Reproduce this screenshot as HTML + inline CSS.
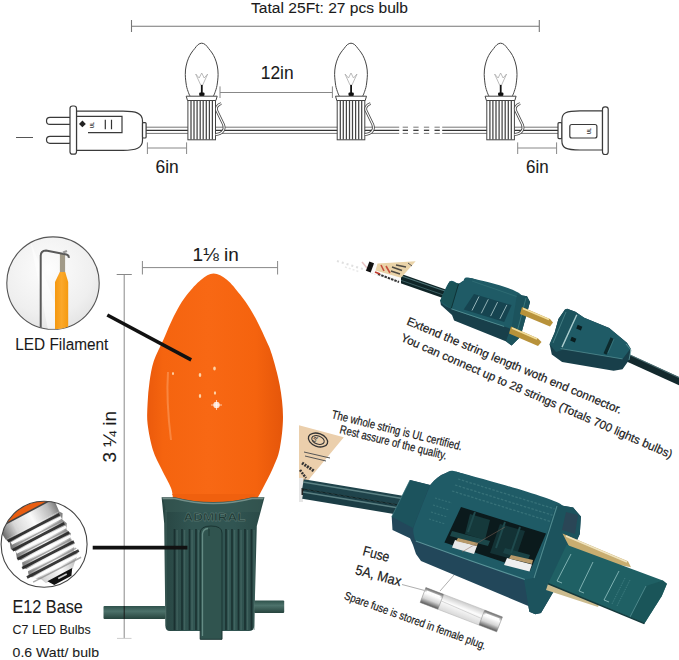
<!DOCTYPE html>
<html><head><meta charset="utf-8"><style>
html,body{margin:0;padding:0;background:#fff;width:679px;height:660px;overflow:hidden}
svg{display:block;font-family:"Liberation Sans",sans-serif}
</style></head><body>
<svg width="679" height="660" viewBox="0 0 679 660">
<defs>
<radialGradient id="cg" cx="0.45" cy="0.35" r="0.7"><stop offset="0" stop-color="#fdfdfd"/><stop offset="0.7" stop-color="#efefef"/><stop offset="1" stop-color="#e2e2e2"/></radialGradient>
<clipPath id="c1"><circle cx="53" cy="283.1" r="46.2"/></clipPath>
<clipPath id="c2"><circle cx="44.1" cy="544.3" r="43"/></clipPath>
<linearGradient id="og" x1="0" y1="0" x2="1" y2="0"><stop offset="0" stop-color="#eb5a0c"/><stop offset="0.12" stop-color="#f5640f"/><stop offset="0.45" stop-color="#f86814"/><stop offset="0.8" stop-color="#f5630e"/><stop offset="1" stop-color="#e5560a"/></linearGradient>
<linearGradient id="gg" x1="0" y1="0" x2="1" y2="0"><stop offset="0" stop-color="#284542"/><stop offset="0.3" stop-color="#315552"/><stop offset="0.7" stop-color="#315552"/><stop offset="1" stop-color="#2a4946"/></linearGradient>
<linearGradient id="wg" x1="0" y1="0" x2="0" y2="1"><stop offset="0" stop-color="#2e514b"/><stop offset="0.4" stop-color="#4d726b"/><stop offset="1" stop-color="#26433d"/></linearGradient>
<linearGradient id="fg" x1="0" y1="0" x2="1" y2="0"><stop offset="0" stop-color="#f5980f"/><stop offset="0.5" stop-color="#fba82a"/><stop offset="1" stop-color="#f59a10"/></linearGradient>
<linearGradient id="sg" x1="0" y1="0" x2="1" y2="0"><stop offset="0" stop-color="#666"/><stop offset="0.25" stop-color="#d8d8d8"/><stop offset="0.55" stop-color="#fafafa"/><stop offset="0.85" stop-color="#bbb"/><stop offset="1" stop-color="#777"/></linearGradient>
<linearGradient id="fuseg" x1="0" y1="0" x2="0" y2="1"><stop offset="0" stop-color="#666"/><stop offset="0.3" stop-color="#fff"/><stop offset="0.65" stop-color="#d5d5d5"/><stop offset="1" stop-color="#555"/></linearGradient>
<linearGradient id="glassg" x1="0" y1="0" x2="0" y2="1"><stop offset="0" stop-color="#ccc"/><stop offset="0.4" stop-color="#fcfcfc"/><stop offset="1" stop-color="#d8d8d8"/></linearGradient>
</defs>
<text x="251" y="12.5" font-size="15.5" textLength="157" lengthAdjust="spacingAndGlyphs" fill="#1a1a1a" stroke="#1a1a1a" stroke-width="0.08">Tatal 25Ft: 27 pcs bulb</text>
<g stroke="#777" stroke-width="1.1" fill="none"><path d="M131.5 26.3H539.3M131.5 20V32M539.3 20V32"/></g>
<path d="M16 137.5H33" stroke="#555" stroke-width="1"/>
<path d="M146.0 127.2H399.2M146.0 133.4H399.2" stroke="#666" stroke-width="0.9"/><path d="M146.0 130.3H399.2" stroke="#333" stroke-width="1.3"/>
<path d="M402.7 127.2H408.0M402.7 133.4H408.0" stroke="#666" stroke-width="0.9"/><path d="M402.7 130.3H408.0" stroke="#333" stroke-width="1.3"/>
<path d="M413.3 127.2H418.6M413.3 133.4H418.6" stroke="#666" stroke-width="0.9"/><path d="M413.3 130.3H418.6" stroke="#333" stroke-width="1.3"/>
<path d="M423.9 127.2H429.2M423.9 133.4H429.2" stroke="#666" stroke-width="0.9"/><path d="M423.9 130.3H429.2" stroke="#333" stroke-width="1.3"/>
<path d="M434.5 127.2H439.8M434.5 133.4H439.8" stroke="#666" stroke-width="0.9"/><path d="M434.5 130.3H439.8" stroke="#333" stroke-width="1.3"/>
<path d="M442.2 127.2H558.0M442.2 133.4H558.0" stroke="#666" stroke-width="0.9"/><path d="M442.2 130.3H558.0" stroke="#333" stroke-width="1.3"/>
<g fill="#fff" stroke="#3a3a3a" stroke-width="1.2">
<rect x="46.5" y="117.4" width="26" height="7" rx="3.5"/>
<rect x="46.5" y="136.3" width="26" height="7" rx="3.5"/>
<path d="M76.5 111.2H123C136 111.2 142.5 113 142.5 121V140.5C142.5 148 136 150.3 123 150.3H76.5Z"/>
<rect x="142.5" y="122.6" width="3.6" height="15.4" rx="1"/>
<rect x="70" y="106" width="6.5" height="48.2" rx="2.5"/>
</g>
<path d="M77 116.3H122V132.7H88" fill="none" stroke="#3a3a3a" stroke-width="1.2"/>
<path d="M105.3 119.8V129.2M111.5 119.8V129.2" stroke="#333" stroke-width="1.2"/>
<path d="M79 123.9L82.4 120.5L85.8 123.9L82.4 127.3Z" fill="#222"/>
<text x="0" y="0" font-size="4.5" fill="#333" transform="translate(94.2 128) rotate(-90)" font-weight="bold">UL</text>
<g fill="#fff" stroke="#3a3a3a" stroke-width="1.2">
<rect x="558" y="122.7" width="4" height="15.9" rx="1"/>
<path d="M602.5 110.9H580C566 110.9 561.9 113 561.9 120V141C561.9 148 566 150 580 150H602.5Z"/>
<rect x="602.5" y="106.8" width="5.7" height="47.7" rx="2.5"/>
<rect x="569.8" y="124.5" width="27.1" height="13.5" rx="2"/>
</g>
<text x="0" y="0" font-size="4.5" fill="#333" transform="translate(591 134) rotate(-90)" font-weight="bold">UL</text>
<g stroke="#888" stroke-width="1" fill="none"><path d="M147.4 148H186.6M147.4 142.4V154M186.6 142.4V154"/>
<path d="M517.7 148H556.6M517.7 142.4V154M556.6 142.4V154"/></g>
<text x="155.5" y="173.3" font-size="17.8" textLength="23.2" lengthAdjust="spacingAndGlyphs" fill="#1a1a1a" stroke="#1a1a1a" stroke-width="0.08">6in</text>
<text x="526" y="172.7" font-size="17.8" textLength="22.6" lengthAdjust="spacingAndGlyphs" fill="#1a1a1a" stroke="#1a1a1a" stroke-width="0.08">6in</text>
<g stroke="#888" stroke-width="1" fill="none"><path d="M220 92.5H332.4M220 86.4V98M332.4 86.4V98"/></g>
<text x="260.8" y="79.3" font-size="18.8" textLength="32.8" lengthAdjust="spacingAndGlyphs" fill="#1a1a1a" stroke="#1a1a1a" stroke-width="0.08">12in</text>
<path d="M190.1 96.2 C189.8 95.6 189.1 94.5 188.5 92.7 C187.9 90.9 186.9 88.5 186.4 85.5 C185.9 82.5 185.3 77.8 185.3 74.5 C185.2 71.2 185.6 68.7 186.1 66.0 C186.6 63.3 187.6 60.4 188.5 58.2 C189.4 56.0 190.3 54.6 191.3 53.0 C192.3 51.4 193.6 50.0 194.7 48.6 C195.8 47.2 196.9 45.5 198.1 44.6 C199.3 43.7 200.5 43.2 201.7 43.2 C202.9 43.2 204.1 43.7 205.3 44.6 C206.5 45.5 207.6 47.2 208.7 48.6 C209.8 50.0 211.1 51.4 212.1 53.0 C213.1 54.6 214.0 56.0 214.9 58.2 C215.8 60.4 216.8 63.3 217.3 66.0 C217.8 68.7 218.1 71.2 218.1 74.5 C218.1 77.8 217.5 82.5 217.0 85.5 C216.5 88.5 215.5 90.9 214.9 92.7 C214.3 94.5 213.6 95.6 213.3 96.2" fill="#fff" stroke="#444" stroke-width="1"/><path d="M195.7 74L200.7 85L202.7 85L207.7 74L204.2 78L201.7 73L199.2 78Z" fill="none" stroke="#aaa" stroke-width="0.8"/><rect x="200.9" y="85" width="1.8" height="8" fill="#111"/><rect x="199.2" y="92.5" width="5.3" height="3.6" fill="#111" rx="1"/><rect x="187.9" y="100.5" width="27.6" height="39.3" fill="#fff" stroke="#444" stroke-width="1"/><path d="M191.0 101V139.5" stroke="#444" stroke-width="1.25"/><path d="M194.0 101V139.5" stroke="#444" stroke-width="1.25"/><path d="M197.1 101V139.5" stroke="#444" stroke-width="1.25"/><path d="M200.2 101V139.5" stroke="#444" stroke-width="1.25"/><path d="M203.2 101V139.5" stroke="#444" stroke-width="1.25"/><path d="M206.3 101V139.5" stroke="#444" stroke-width="1.25"/><path d="M209.4 101V139.5" stroke="#444" stroke-width="1.25"/><path d="M212.4 101V139.5" stroke="#444" stroke-width="1.25"/><path d="M186.2 96.2H217.2L215.9 100.5H187.5Z" fill="#fff" stroke="#444" stroke-width="1"/><path d="M221.2 103.5C218.7 104.5 215.7 106.5 216.5 110L223.5 124.5C225.5 129.5 222.7 134 215.5 134.6" fill="none" stroke="#4a4a4a" stroke-width="2.8"/><path d="M221.2 103.5C218.7 104.5 215.7 106.5 216.5 110L223.5 124.5C225.5 129.5 222.7 134 215.5 134.6" fill="none" stroke="#fff" stroke-width="1.1"/>
<path d="M339.4 96.2 C339.1 95.6 338.4 94.5 337.8 92.7 C337.2 90.9 336.2 88.5 335.7 85.5 C335.2 82.5 334.7 77.8 334.6 74.5 C334.6 71.2 334.9 68.7 335.4 66.0 C335.9 63.3 336.9 60.4 337.8 58.2 C338.7 56.0 339.6 54.6 340.6 53.0 C341.6 51.4 342.9 50.0 344.0 48.6 C345.1 47.2 346.2 45.5 347.4 44.6 C348.6 43.7 349.8 43.2 351.0 43.2 C352.2 43.2 353.4 43.7 354.6 44.6 C355.8 45.5 356.9 47.2 358.0 48.6 C359.1 50.0 360.4 51.4 361.4 53.0 C362.4 54.6 363.3 56.0 364.2 58.2 C365.1 60.4 366.1 63.3 366.6 66.0 C367.1 68.7 367.4 71.2 367.4 74.5 C367.3 77.8 366.8 82.5 366.3 85.5 C365.8 88.5 364.8 90.9 364.2 92.7 C363.6 94.5 362.9 95.6 362.6 96.2" fill="#fff" stroke="#444" stroke-width="1"/><path d="M345.0 74L350.0 85L352.0 85L357.0 74L353.5 78L351.0 73L348.5 78Z" fill="none" stroke="#aaa" stroke-width="0.8"/><rect x="350.2" y="85" width="1.8" height="8" fill="#111"/><rect x="348.5" y="92.5" width="5.3" height="3.6" fill="#111" rx="1"/><rect x="337.2" y="100.5" width="27.6" height="39.3" fill="#fff" stroke="#444" stroke-width="1"/><path d="M340.3 101V139.5" stroke="#444" stroke-width="1.25"/><path d="M343.3 101V139.5" stroke="#444" stroke-width="1.25"/><path d="M346.4 101V139.5" stroke="#444" stroke-width="1.25"/><path d="M349.5 101V139.5" stroke="#444" stroke-width="1.25"/><path d="M352.5 101V139.5" stroke="#444" stroke-width="1.25"/><path d="M355.6 101V139.5" stroke="#444" stroke-width="1.25"/><path d="M358.7 101V139.5" stroke="#444" stroke-width="1.25"/><path d="M361.7 101V139.5" stroke="#444" stroke-width="1.25"/><path d="M335.5 96.2H366.5L365.2 100.5H336.8Z" fill="#fff" stroke="#444" stroke-width="1"/><path d="M370.5 103.5C368.0 104.5 365.0 106.5 365.8 110L372.8 124.5C374.8 129.5 372.0 134 364.8 134.6" fill="none" stroke="#4a4a4a" stroke-width="2.8"/><path d="M370.5 103.5C368.0 104.5 365.0 106.5 365.8 110L372.8 124.5C374.8 129.5 372.0 134 364.8 134.6" fill="none" stroke="#fff" stroke-width="1.1"/>
<path d="M489.0 96.2 C488.7 95.6 488.0 94.5 487.4 92.7 C486.8 90.9 485.8 88.5 485.3 85.5 C484.8 82.5 484.3 77.8 484.2 74.5 C484.2 71.2 484.5 68.7 485.0 66.0 C485.5 63.3 486.5 60.4 487.4 58.2 C488.3 56.0 489.2 54.6 490.2 53.0 C491.2 51.4 492.5 50.0 493.6 48.6 C494.7 47.2 495.8 45.5 497.0 44.6 C498.2 43.7 499.4 43.2 500.6 43.2 C501.8 43.2 503.0 43.7 504.2 44.6 C505.4 45.5 506.5 47.2 507.6 48.6 C508.7 50.0 510.0 51.4 511.0 53.0 C512.0 54.6 512.9 56.0 513.8 58.2 C514.7 60.4 515.7 63.3 516.2 66.0 C516.7 68.7 517.0 71.2 517.0 74.5 C517.0 77.8 516.4 82.5 515.9 85.5 C515.4 88.5 514.4 90.9 513.8 92.7 C513.2 94.5 512.5 95.6 512.2 96.2" fill="#fff" stroke="#444" stroke-width="1"/><path d="M494.6 74L499.6 85L501.6 85L506.6 74L503.1 78L500.6 73L498.1 78Z" fill="none" stroke="#aaa" stroke-width="0.8"/><rect x="499.8" y="85" width="1.8" height="8" fill="#111"/><rect x="498.1" y="92.5" width="5.3" height="3.6" fill="#111" rx="1"/><rect x="486.8" y="100.5" width="27.6" height="39.3" fill="#fff" stroke="#444" stroke-width="1"/><path d="M489.9 101V139.5" stroke="#444" stroke-width="1.25"/><path d="M492.9 101V139.5" stroke="#444" stroke-width="1.25"/><path d="M496.0 101V139.5" stroke="#444" stroke-width="1.25"/><path d="M499.1 101V139.5" stroke="#444" stroke-width="1.25"/><path d="M502.1 101V139.5" stroke="#444" stroke-width="1.25"/><path d="M505.2 101V139.5" stroke="#444" stroke-width="1.25"/><path d="M508.3 101V139.5" stroke="#444" stroke-width="1.25"/><path d="M511.3 101V139.5" stroke="#444" stroke-width="1.25"/><path d="M485.1 96.2H516.1L514.8 100.5H486.4Z" fill="#fff" stroke="#444" stroke-width="1"/><path d="M520.1 103.5C517.6 104.5 514.6 106.5 515.4 110L522.4 124.5C524.4 129.5 521.6 134 514.4 134.6" fill="none" stroke="#4a4a4a" stroke-width="2.8"/><path d="M520.1 103.5C517.6 104.5 514.6 106.5 515.4 110L522.4 124.5C524.4 129.5 521.6 134 514.4 134.6" fill="none" stroke="#fff" stroke-width="1.1"/>
<circle cx="53" cy="283.1" r="46.2" fill="url(#cg)" stroke="#555" stroke-width="1.1"/>
<g clip-path="url(#c1)">
<path d="M30 240L50 340L70 340Z" fill="#fff" opacity="0.5"/>
<path d="M62.5 254V274" stroke="#a19a88" stroke-width="5.2"/>
<path d="M59.8 272L55 282V340H68.2V282L65.2 272Z" fill="url(#fg)"/>
<path d="M40.7 340V256Q40.7 250.5 46 250.5L66.5 254.5Q69 255.2 68.8 257.8" fill="none" stroke="#5a5a5a" stroke-width="2"/>
<path d="M63 252.5L67 251" stroke="#999" stroke-width="2"/>
</g>
<text x="15.3" y="350" font-size="16.8" textLength="93" lengthAdjust="spacingAndGlyphs" fill="#1a1a1a" stroke="#1a1a1a" stroke-width="0.08">LED Filament</text>
<g stroke="#888" stroke-width="1" fill="none"><path d="M124.2 274.5V638.4M116.7 274.5H131.8"/><path d="M117 638.4H131.5" stroke="#ccc"/>
<path d="M142.4 267.6H277.6M142.4 261V274.5M277.6 261V274.5"/></g>
<text x="192.4" y="261" font-size="19" textLength="46.4" lengthAdjust="spacingAndGlyphs" fill="#1a1a1a" stroke="#1a1a1a" stroke-width="0.08">1⅛ in</text>
<text x="0" y="0" font-size="18.5" fill="#1a1a1a" stroke="#1a1a1a" stroke-width="0.08" transform="translate(116.2 462.6) rotate(-90)" textLength="51.6" lengthAdjust="spacingAndGlyphs">3 ¼ in</text>
<path d="M173.0 499.0 C172.7 497.2 172.9 493.0 171.0 488.0 C169.1 483.0 164.5 475.3 161.5 469.0 C158.5 462.7 155.2 457.5 152.9 450.0 C150.6 442.5 148.5 431.8 147.6 424.0 C146.7 416.2 147.3 410.0 147.6 403.0 C147.9 396.0 148.5 389.0 149.5 382.0 C150.5 375.0 151.5 368.0 153.8 361.0 C156.1 354.0 160.6 346.2 163.3 340.0 C166.0 333.8 167.8 329.0 170.2 323.9 C172.6 318.8 174.7 314.1 177.5 309.2 C180.3 304.3 183.2 299.4 187.1 294.5 C191.0 289.6 196.7 283.2 201.1 279.7 C205.5 276.2 209.3 273.5 213.6 273.5 C217.9 273.5 222.5 276.2 226.9 279.7 C231.3 283.2 236.2 289.6 240.1 294.5 C244.0 299.4 247.3 304.3 250.4 309.2 C253.5 314.1 255.9 318.8 258.5 323.9 C261.1 329.0 263.8 335.0 266.0 340.0 C268.2 345.0 269.4 346.5 271.7 354.0 C274.0 361.5 277.8 374.5 279.7 385.0 C281.6 395.5 283.0 406.3 283.0 417.0 C283.0 427.7 281.4 440.3 279.7 449.0 C277.9 457.7 275.3 462.5 272.5 469.0 C269.7 475.5 265.6 483.0 263.0 488.0 C260.4 493.0 258.0 497.2 257.0 499.0 Z" fill="url(#og)"/>
<path d="M168 372Q166 400 171 440" stroke="#ffb07a" stroke-width="2" fill="none" opacity="0.45"/>
<ellipse cx="214.5" cy="368.5" rx="1.3" ry="2.1" fill="#fdd3a8"/>
<ellipse cx="200.0" cy="375.0" rx="1.3" ry="2.1" fill="#fdd3a8"/>
<ellipse cx="173.0" cy="373.5" rx="1.0" ry="1.6" fill="#fdd3a8"/>
<ellipse cx="200.0" cy="396.0" rx="1.2" ry="1.9" fill="#fdd3a8"/>
<ellipse cx="215.0" cy="393.0" rx="1.1" ry="1.8" fill="#fdd3a8"/>
<circle cx="216.5" cy="405" r="3.2" fill="#fff" opacity="0.8"/>
<path d="M211 405H222M216.5 400V410" stroke="#fff" stroke-width="0.8" opacity="0.8"/>
<path d="M172 494H256L252 500Q213 510 176 500Z" fill="#f0600e"/>
<path d="M161.6 497.2L175 497.2Q213 507 252 497.2L264.5 497.2L256.8 526L254.2 626Q254 631 249 631L170 631Q165.4 631 165.4 626L164.2 523.5Z" fill="url(#gg)"/>
<path d="M163 498L175 498Q213 508 252 498L263 498L259.5 512L166 512Z" fill="#3a5c55" opacity="0.5"/>
<path d="M162.5 498.5L175 498.5Q213 508.5 252 498.5L263.5 498.5" stroke="#9fb5af" stroke-width="1.3" fill="none" opacity="0.6"/>
<rect x="103.5" y="606" width="62" height="13" rx="1" fill="url(#wg)"/>
<rect x="254" y="600.5" width="30.2" height="12.5" rx="1" fill="url(#wg)"/>
<path d="M124.2 606V619" stroke="#1a1a1a" stroke-width="1"/>
<path d="M174.5 529V630" stroke="#182d2d" stroke-width="1.7" opacity="0.85"/>
<path d="M177.1 530V630" stroke="#52746f" stroke-width="1.3" opacity="0.5"/>
<path d="M182.0 529V630" stroke="#182d2d" stroke-width="1.7" opacity="0.85"/>
<path d="M184.6 530V630" stroke="#52746f" stroke-width="1.3" opacity="0.5"/>
<path d="M189.5 529V630" stroke="#182d2d" stroke-width="1.7" opacity="0.85"/>
<path d="M192.1 530V630" stroke="#52746f" stroke-width="1.3" opacity="0.5"/>
<path d="M196.0 529V630" stroke="#182d2d" stroke-width="1.7" opacity="0.85"/>
<path d="M198.6 530V630" stroke="#52746f" stroke-width="1.3" opacity="0.5"/>
<path d="M226.0 529V630" stroke="#182d2d" stroke-width="1.7" opacity="0.85"/>
<path d="M228.6 530V630" stroke="#52746f" stroke-width="1.3" opacity="0.5"/>
<path d="M232.0 529V630" stroke="#182d2d" stroke-width="1.7" opacity="0.85"/>
<path d="M234.6 530V630" stroke="#52746f" stroke-width="1.3" opacity="0.5"/>
<path d="M238.5 529V630" stroke="#182d2d" stroke-width="1.7" opacity="0.85"/>
<path d="M241.1 530V630" stroke="#52746f" stroke-width="1.3" opacity="0.5"/>
<path d="M245.0 529V630" stroke="#182d2d" stroke-width="1.7" opacity="0.85"/>
<path d="M247.6 530V630" stroke="#52746f" stroke-width="1.3" opacity="0.5"/>
<path d="M251.5 529V630" stroke="#182d2d" stroke-width="1.7" opacity="0.85"/>
<path d="M254.1 530V630" stroke="#52746f" stroke-width="1.3" opacity="0.5"/>
<path d="M166 510V626" stroke="#4a6c65" stroke-width="1.2" opacity="0.5"/>
<path d="M200.2 639.3V533Q200.2 526 211 526Q222 526 222 533V639.3Z" fill="#30544f" stroke="#1a3432" stroke-width="1"/>
<path d="M202.5 636V534Q203 529 208 528.5" stroke="#6a918a" stroke-width="1.3" fill="none" opacity="0.9"/>
<path d="M209 529V536" stroke="#1c3934" stroke-width="1"/>
<text x="183.5" y="521" font-size="10.5" font-weight="bold" fill="#203a35" stroke="#6d8b84" stroke-width="0.3" textLength="62" lengthAdjust="spacingAndGlyphs">ADMIRAL</text>
<path d="M107.3 315L191.2 359.8" stroke="#111" stroke-width="3.6"/>
<path d="M92.7 547.6H187.4" stroke="#111" stroke-width="3.6"/>
<circle cx="44.1" cy="544.3" r="43" fill="#fff"/>
<g clip-path="url(#c2)"><g transform="translate(47 546) rotate(-28) scale(1.08)"><g transform="translate(-3 0)">
<rect x="-45" y="-70" width="90" height="34" fill="#e95e12"/>
<path d="M-29 -36H29L28 -23H-28Z" fill="url(#sg)"/>
<path d="M-29 -36H29" stroke="#444" stroke-width="1.5"/>
<path d="M-28.0 -23.0 L-26.0 -19.0 L-28.0 -13.0 L-25.0 -9.0 L-27.0 -3.0 L-24.0 1.0 L-26.0 7.0 L-23.0 11.0 L-25.0 17.0 L-21.0 21.0 L-16.0 25.0 L-14.0 30.0 L14.0 30.0 L19.0 25.0 L25.0 20.0 L23.0 15.0 L27.0 10.0 L25.0 5.0 L28.0 0.0 L26.0 -5.0 L29.0 -10.0 L27.0 -15.0 L30.0 -20.0 L28.0 -23.0Z" fill="url(#sg)"/>
<path d="M-27 -21.0L27 -20.5" stroke="#262626" stroke-width="2.6" opacity="0.9"/>
<path d="M-25 -17.5L27 -17.0" stroke="#fff" stroke-width="2.6" opacity="0.95"/>
<path d="M-24 -14.5L26 -14.0" stroke="#888" stroke-width="1.4" opacity="0.7"/>
<path d="M-27 -11.5L27 -11.0" stroke="#262626" stroke-width="2.6" opacity="0.9"/>
<path d="M-25 -8.0L27 -7.5" stroke="#fff" stroke-width="2.6" opacity="0.95"/>
<path d="M-24 -5.0L26 -4.5" stroke="#888" stroke-width="1.4" opacity="0.7"/>
<path d="M-27 -2.0L27 -1.5" stroke="#262626" stroke-width="2.6" opacity="0.9"/>
<path d="M-25 1.5L27 2.0" stroke="#fff" stroke-width="2.6" opacity="0.95"/>
<path d="M-24 4.5L26 5.0" stroke="#888" stroke-width="1.4" opacity="0.7"/>
<path d="M-27 7.5L27 8.0" stroke="#262626" stroke-width="2.6" opacity="0.9"/>
<path d="M-25 11.0L27 11.5" stroke="#fff" stroke-width="2.6" opacity="0.95"/>
<path d="M-24 14.0L26 14.5" stroke="#888" stroke-width="1.4" opacity="0.7"/>
<path d="M-27 17.0L27 17.5" stroke="#262626" stroke-width="2.6" opacity="0.9"/>
<path d="M-25 20.5L27 21.0" stroke="#fff" stroke-width="2.6" opacity="0.95"/>
<path d="M-24 23.5L26 24.0" stroke="#888" stroke-width="1.4" opacity="0.7"/>
<path d="M-12 29L14 29L10 35L-8 35Z" fill="#111"/>
<path d="M-2 31.5H7" stroke="#ccc" stroke-width="1.6"/>
</g></g></g>
<circle cx="44.1" cy="544.3" r="43" fill="none" stroke="#444" stroke-width="1.1"/>
<text x="12.4" y="613" font-size="18.5" textLength="70.5" lengthAdjust="spacingAndGlyphs" fill="#1a1a1a" stroke="#1a1a1a" stroke-width="0.08">E12 Base</text>
<text x="12.6" y="634" font-size="13.6" textLength="78" lengthAdjust="spacingAndGlyphs" fill="#1a1a1a" stroke="#1a1a1a" stroke-width="0.08">C7 LED Bulbs</text>
<text x="12.6" y="657" font-size="12.8" textLength="86.4" lengthAdjust="spacingAndGlyphs" fill="#1a1a1a" stroke="#1a1a1a" stroke-width="0.08">0.6 Watt/ bulb</text>
<path d="M337 261L366 270" stroke="#ccc" stroke-width="2" stroke-dasharray="2 3" opacity="0.6"/>
<path d="M345 267L360 272" stroke="#ddd" stroke-width="1.5" stroke-dasharray="2 2" opacity="0.6"/>
<path d="M362 262L367 268" stroke="#d9a0a0" stroke-width="1.5" opacity="0.6"/>
<path d="M372 268.5L445 294" stroke="#0f2527" stroke-width="9"/>
<path d="M400 275.5L445 291" stroke="#587e82" stroke-width="1.2" opacity="0.9"/>
<path d="M400 280L445 295.5" stroke="#466b6f" stroke-width="1" opacity="0.8"/>
<path d="M370.3 262.5L401 274L401 284.5L370.3 273Z" fill="#fafafa"/>
<rect x="367.5" y="262" width="5" height="10" fill="#111" transform="rotate(20 370 267)"/>
<path d="M377.5 263.4L415.7 261.3L401 277.8L375.5 270.6Z" fill="#ead3a8"/>
<path d="M381 265L384 271M386 266L390 273" stroke="#c0392b" stroke-width="1.6" opacity="0.85"/>
<path d="M392 267L402 270.5M391 271L400 274M396 265L406 267" stroke="#333" stroke-width="1.4" opacity="0.85"/>
<path d="M378 274L399 282" stroke="#333" stroke-width="2" stroke-dasharray="2.5 1"/>
<path d="M375 272L380 274" stroke="#c0392b" stroke-width="1.8"/>
<path d="M408 263L412 266" stroke="#555" stroke-width="1"/>
<path d="M449.7 281.6 L458.6 283.8 L465.9 279.4 L471.8 278.2 L521.9 295.6 L527.0 296.2 L530.0 302.0 L520.4 336.8 L511.6 345.6 L505.7 341.2 L454.1 320.6 L452.0 315.0 L440.9 305.1 L440.2 300.7Z" fill="#183f4a"/>
<path d="M440.2 300.7 C441.8 297.5 446.6 284.4 449.7 281.6 C452.8 278.8 456.4 283.9 458.6 283.8 C460.8 283.7 460.8 281.9 463.0 281.0 C465.2 280.1 462.0 275.8 471.8 278.2 C481.6 280.6 515.2 287.6 521.9 295.6 C528.6 303.6 515.0 320.9 512.0 326.0 C509.1 331.1 514.3 329.4 504.2 326.5 C494.1 323.6 461.9 313.1 451.2 308.8 C440.5 304.5 442.0 302.1 440.2 300.7" fill="#1f5b66"/>
<path d="M440.2 300.7L449.7 281.6L458.6 283.8L451.2 308.8Z" fill="#1a5358"/>
<path d="M458.6 283.8L451.2 308.8" stroke="#0f3336" stroke-width="1"/>
<path d="M474.0 294.1 L511.6 305.1 L504.2 322.0 L463.7 309.6Z" fill="#164450"/>
<path d="M479.0 296.5L472.0 310.5" stroke="#cfe8e8" stroke-width="0.9" opacity="0.75"/>
<path d="M488.3 299.3L481.3 313.3" stroke="#cfe8e8" stroke-width="0.9" opacity="0.75"/>
<path d="M497.6 302.1L490.6 316.1" stroke="#cfe8e8" stroke-width="0.9" opacity="0.75"/>
<path d="M506.9 304.9L499.9 318.9" stroke="#cfe8e8" stroke-width="0.9" opacity="0.75"/>
<path d="M451.2 308.8L504.2 326.5" stroke="#5d999c" stroke-width="1" opacity="0.8"/>
<path d="M472 281L518 297" stroke="#3e7c80" stroke-width="0.8" opacity="0.6"/>
<path d="M517.0 294.5 L527.0 296.2 L530.0 302.0 L520.4 336.8 L511.6 345.6 L506.0 341.0 L512.0 325.0Z" fill="#1c535d"/>
<path d="M526 298L516 336" stroke="#4d8b8f" stroke-width="0.9" opacity="0.7"/>
<path d="M522.0 307.0 L550.0 319.0 L553.0 322.5 L550.0 326.5 L520.0 314.0Z" fill="#b8923a"/>
<path d="M523 308.5L549 319.5" stroke="#f2dd9c" stroke-width="1.6"/>
<path d="M511.0 326.5 L538.0 338.5 L541.5 342.0 L538.0 346.0 L509.0 333.5Z" fill="#b8923a"/>
<path d="M512 328L537 339" stroke="#f2dd9c" stroke-width="1.6"/>
<path d="M626 357L681 382" stroke="#13292d" stroke-width="7.5"/>
<path d="M630 355L681 378.5" stroke="#557a7e" stroke-width="1.1" opacity="0.8"/>
<path d="M567.2 308.8 L575.3 311.8 L584.2 317.7 L609.2 328.0 L626.9 342.7 L630.6 348.6 L629.8 358.9 L622.5 369.2 L613.6 370.7 L562.1 361.9 L551.8 354.5 L549.6 344.2 L554.7 332.4 L558.4 319.1 L565.0 309.6Z" fill="#183f4a"/>
<path d="M575.3 311.8 L584.2 317.7 L609.2 328.0 L626.9 342.7 L630.6 348.6 L622.5 358.9 L560.6 348.6 L566.0 330.0Z" fill="#1f5b66"/>
<path d="M565.0 309.6 L567.2 308.8 L575.3 311.8 L578.0 314.0 L562.0 350.0 L556.0 352.0 L549.6 344.2 L554.7 332.4 L558.4 319.1Z" fill="#1c535d"/>
<path d="M576.8 314.7L562 347.1" stroke="#c4e3e3" stroke-width="1.4" opacity="0.85"/>
<path d="M566 312L553 343" stroke="#5a9599" stroke-width="0.9" opacity="0.7"/>
<rect x="577" y="325.5" width="5" height="4" fill="#0a1e20" transform="rotate(22 579 327)"/>
<rect x="571" y="337.5" width="5" height="4" fill="#0a1e20" transform="rotate(22 573 339)"/>
<path d="M612 338L605 354" stroke="#0d2a2d" stroke-width="3.2"/>
<path d="M614 339L608 353" stroke="#4d8b8f" stroke-width="0.7" opacity="0.7"/>
<path d="M560.6 348.6L622.5 358.9" stroke="#5d999c" stroke-width="0.9" opacity="0.75"/>
<path d="M626 344L631 350L629 360" stroke="#6aa5a8" stroke-width="1" fill="none" opacity="0.7"/>
<text font-size="11.8" fill="#1a1a1a" stroke="#1a1a1a" stroke-width="0.2" transform="translate(406 324.3) rotate(22.75)" textLength="232" lengthAdjust="spacingAndGlyphs">Extend the string length woth end connector.</text>
<text font-size="11.8" fill="#1a1a1a" stroke="#1a1a1a" stroke-width="0.2" transform="translate(400 340.5) rotate(23.6)" textLength="295" lengthAdjust="spacingAndGlyphs">You can connect up to 28 strings (Totals 700 lights bulbs)</text>
<text font-size="12" fill="#1a1a1a" stroke="#1a1a1a" stroke-width="0.2" transform="translate(331 418) rotate(14)" textLength="134" lengthAdjust="spacingAndGlyphs">The whole string is UL certified.</text>
<text font-size="12" fill="#1a1a1a" stroke="#1a1a1a" stroke-width="0.2" transform="translate(339 433) rotate(14)" textLength="110" lengthAdjust="spacingAndGlyphs">Rest assure of the quality.</text>
<path d="M299 425.2L343.8 437.3L310.5 477.4L299 494.8Z" fill="#ebcfac"/>
<ellipse cx="318" cy="440" rx="10" ry="6.5" fill="none" stroke="#333" stroke-width="1.3" transform="rotate(20 318 440)"/>
<ellipse cx="318" cy="440" rx="6.5" ry="4" fill="none" stroke="#333" stroke-width="1" transform="rotate(20 318 440)"/>
<text font-size="5" fill="#333" font-weight="bold" transform="translate(315 442.5) rotate(-60)">UL</text>
<path d="M304 452L330 458M305 456L326 461" stroke="#555" stroke-width="1"/>
<path d="M302 463L314 471" stroke="#333" stroke-width="3" stroke-dasharray="2 1"/>
<path d="M300 470L306 478" stroke="#333" stroke-width="2.5" stroke-dasharray="2 1"/>
<path d="M301 478L301 502" stroke="#e6e6e6" stroke-width="4"/>
<path d="M303 488L303 495" stroke="#222" stroke-width="3"/>
<path d="M303 484L405 501" stroke="#1f434b" stroke-width="9.5"/>
<path d="M303 494L405 511" stroke="#1b3d45" stroke-width="9.5"/>
<path d="M303 489L405 506" stroke="#0b1f21" stroke-width="1"/>
<path d="M303 482L405 499M303 492L405 509" stroke="#6a9092" stroke-width="1.4" opacity="0.8"/>
<path d="M410.0 480.0 L430.0 485.0 L435.0 480.0 L441.0 475.0 L447.0 472.5 L456.7 471.7 L562.7 505.7 L573.2 507.6 L580.9 516.5 L579.8 534.0 L554.2 590.6 L541.0 613.0 L535.3 614.2 L529.4 611.8 L528.3 606.0 L421.0 561.0 L416.0 554.0 L413.0 545.0 L410.0 538.3 L392.5 530.0 L391.7 516.7Z" fill="#22475a"/>
<path d="M410.0 480.0 L430.0 485.0 L413.0 528.0 L391.7 516.7Z" fill="#1c535d"/>
<path d="M410 480L391.7 516.7" stroke="#4d8b8f" stroke-width="0.9" opacity="0.6"/>
<path d="M415.0 540.0 C414.9 539.2 412.5 531.6 413.5 528.0 C414.5 524.4 428.4 489.3 430.0 486.0 C431.6 482.7 435.9 478.9 437.0 478.0 C438.1 477.1 445.7 472.9 447.0 472.5 C448.3 472.1 449.0 469.5 456.7 471.7 C464.4 473.9 557.6 498.6 562.7 505.7 C567.8 512.8 535.5 573.1 533.0 578.0 C530.5 582.9 529.1 580.7 524.9 579.5 C520.7 578.3 477.3 563.2 470.0 560.6 C462.7 558.0 418.7 541.4 415.0 540.0" fill="#1f5b66"/>
<path d="M415.8 541L470 560.6L524.9 579.5" stroke="#64a0a3" stroke-width="1.1" fill="none" opacity="0.85"/>
<path d="M461.0 507.0 L546.0 533.5 L530.0 571.0 L444.4 542.4Z" fill="#0b1a1c"/>
<path d="M470.0 514.0 L490.0 520.0 L485.0 540.0 L465.0 534.0Z" fill="#15393b"/>
<path d="M452.0 531.0 L490.0 541.0 L488.0 546.0 L450.0 536.0Z" fill="#1b4649"/>
<path d="M500.0 524.0 L525.0 531.0 L515.0 560.0 L490.0 553.0Z" fill="#133235"/>
<path d="M505.0 548.0 L530.0 555.0 L528.0 560.0 L503.0 553.0Z" fill="#1a4245"/>
<path d="M475 512L468 532M505 522L496 548M520 527L511 553" stroke="#1f4a4d" stroke-width="2"/>
<path d="M455.0 540.0 L477.0 546.0 L474.0 554.0 L452.0 547.5Z" fill="#e8e8e8"/>
<path d="M458.0 538.0 L478.0 543.0 L477.0 546.0 L456.0 541.0Z" fill="#b89a6a"/>
<path d="M507.0 558.0 L532.0 564.5 L529.5 571.5 L504.0 565.0Z" fill="#efefef"/>
<path d="M511.0 555.0 L533.0 560.0 L532.0 564.0 L509.0 558.5Z" fill="#b89a6a"/>
<path d="M462 552L505 527" stroke="#8a6a5a" stroke-width="0.6" opacity="0.8"/>
<path d="M458.0 479.0L558.0 510.0" stroke="#4a8488" stroke-width="1.3" stroke-dasharray="2.5 1.5" opacity="0.55"/>
<path d="M455.0 485.0L555.0 516.0" stroke="#4a8488" stroke-width="1.3" stroke-dasharray="2.5 1.5" opacity="0.55"/>
<path d="M452.0 491.0L552.0 522.0" stroke="#4a8488" stroke-width="1.3" stroke-dasharray="2.5 1.5" opacity="0.55"/>
<path d="M435 498L452 503M433 505L449 510M431 512L447 517M429 519L445 524" stroke="#4a8488" stroke-width="1.2" stroke-dasharray="2 1.5" opacity="0.5"/>
<path d="M556.0 504.5 L573.2 507.6 L580.9 516.5 L579.8 534.0 L554.2 590.6 L541.0 613.0 L535.3 614.2 L529.4 611.8 L524.0 580.0 L533.0 578.0 L546.0 536.0Z" fill="#1c535d"/>
<path d="M566.0 512.0 L578.0 515.0 L575.0 534.0 L562.0 530.0Z" fill="#2a4656"/>
<path d="M557 506L534 578" stroke="#66a3a6" stroke-width="1.1" opacity="0.7"/>
<path d="M562.5 533.5 L628.0 561.2 L631.0 567.3 L574.0 556.0Z" fill="#c8ad70"/>
<path d="M566 536L627 562" stroke="#f0e4bf" stroke-width="1.6"/>
<path d="M548.0 584.0 L600.0 602.0 L598.0 607.0 L546.0 590.0Z" fill="#cbbb8e"/>
<path d="M566.6 544.8 L662.8 580.6 L666.9 583.7 L661.8 596.0 L644.4 623.6 L548.2 583.7Z" fill="#1f6064"/>
<path d="M646.0 586.0 L662.8 580.6 L666.9 583.7 L661.8 596.0 L644.4 623.6 L630.0 617.0Z" fill="#1a5559"/>
<path d="M646 586L630 617" stroke="#6aa3a6" stroke-width="0.9" opacity="0.7"/>
<path d="M571 554L557 581M593 562L579 591M619 571L604 600" stroke="#9ccaca" stroke-width="0.9" opacity="0.85"/>
<path d="M557 581L562 583M579 591L584 593M604 600L609 602" stroke="#9ccaca" stroke-width="0.9" opacity="0.85"/>
<path d="M625 578L612 604M630 580L617 606" stroke="#5d999c" stroke-width="0.8" stroke-dasharray="1.5 1" opacity="0.6"/>
<path d="M548.2 583.7L644.4 623.6" stroke="#14393c" stroke-width="1.5"/>
<path d="M402 584.5L424.3 590.4M440 591L454 575" stroke="#999" stroke-width="0.8"/>
<g transform="translate(423 595) rotate(21)"><rect x="0" y="-8" width="82" height="16" fill="url(#glassg)"/><rect x="0" y="-8" width="19" height="16" fill="url(#fuseg)" stroke="#888" stroke-width="0.5"/><rect x="63" y="-8" width="19" height="16" fill="url(#fuseg)" stroke="#888" stroke-width="0.5"/><path d="M2 -4.5H17M65 -4.5H80" stroke="#fff" stroke-width="2"/><path d="M19 -1L63 1" stroke="#bbb" stroke-width="0.5"/><path d="M19 -8H63M19 8H63" stroke="#bbb" stroke-width="0.6"/></g>
<text font-size="14" fill="#1a1a1a" stroke="#1a1a1a" stroke-width="0.2" transform="translate(362 555) rotate(15)" textLength="27" lengthAdjust="spacingAndGlyphs">Fuse</text>
<text font-size="14" fill="#1a1a1a" stroke="#1a1a1a" stroke-width="0.2" transform="translate(354.5 574) rotate(15)" textLength="47" lengthAdjust="spacingAndGlyphs">5A, Max</text>
<text font-size="11.5" fill="#1a1a1a" stroke="#1a1a1a" stroke-width="0.2" transform="translate(343.5 598.8) rotate(19.8)" textLength="150" lengthAdjust="spacingAndGlyphs">Spare fuse is stored in female plug.</text>
</svg></body></html>
